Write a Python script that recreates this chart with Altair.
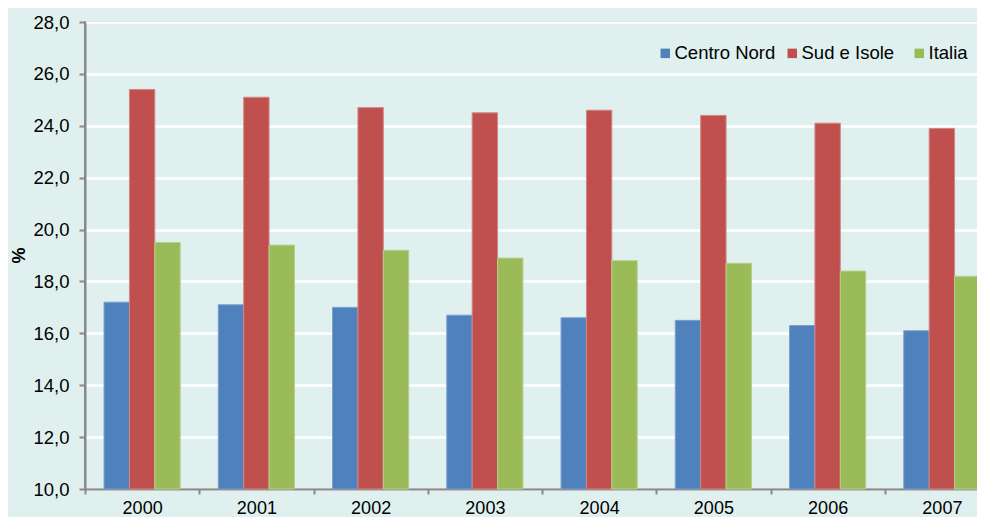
import altair as alt
import pandas as pd

years = ["2000", "2001", "2002", "2003", "2004", "2005", "2006", "2007"]
series = ["Centro Nord", "Sud e Isole", "Italia"]
centro_nord = [17.2, 17.1, 17.0, 16.7, 16.6, 16.5, 16.3, 16.1]
sud_isole = [25.4, 25.1, 24.7, 24.5, 24.6, 24.4, 24.1, 23.9]
italia = [19.5, 19.4, 19.2, 18.9, 18.8, 18.7, 18.4, 18.2]
y_ticks = [10, 12, 14, 16, 18, 20, 22, 24, 26, 28]

colors = ["#4F81BD", "#C0504D", "#9BBB59"]
strokes = ["#7E9FCC", "#D28886", "#B8CF8C"]

rows = []
for name, vals in zip(series, [centro_nord, sud_isole, italia]):
    for yr, v in zip(years, vals):
        rows.append({"anno": yr, "serie": name, "valore": v})
df = pd.DataFrame(rows)

FONT = "Liberation Sans"

chart = alt.Chart(df).mark_bar(strokeWidth=1).encode(
    x=alt.X("anno:N", sort=years, title=None,
            scale=alt.Scale(paddingInner=0, paddingOuter=0),
            axis=alt.Axis(labelAngle=0, tickBand="extent", labelFontSize=18,
                          labelColor="#000000", labelFont=FONT, labelPadding=5,
                          tickSize=5, tickColor="#898989", tickWidth=2,
                          domainColor="#898989", domainWidth=2, grid=False)),
    xOffset=alt.XOffset("serie:N", sort=series,
                        scale=alt.Scale(paddingInner=0, paddingOuter=0.75)),
    y=alt.Y("valore:Q", title="%",
            scale=alt.Scale(domain=[10, 28], nice=False, zero=False),
            axis=alt.Axis(values=y_ticks,
                          labelExpr="replace(format(datum.value, '.1f'), '.', ',')",
                          labelFontSize=18.5, labelColor="#000000", labelFont=FONT,
                          labelPadding=10, tickSize=6, tickColor="#898989", tickWidth=2,
                          domainColor="#898989", domainWidth=2,
                          gridColor="#FFFFFF", gridWidth=2.5,
                          titleFont=FONT, titleFontSize=18, titleFontWeight="bold",
                          titleColor="#000000", titleX=-66, titleY=233,
                          titleAlign="center", titleBaseline="middle")),
    y2=alt.datum(10),
    color=alt.Color("serie:N", sort=series,
                    scale=alt.Scale(domain=series, range=colors),
                    legend=alt.Legend(title=None, orient="none", direction="horizontal",
                                      legendX=571, legendY=22, symbolType="square",
                                      symbolSize=90, symbolStrokeWidth=0,
                                      labelFontSize=18.5, labelFont=FONT,
                                      labelColor="#000000", labelOffset=0,
                                      gridAlign="all", columnPadding=7)),
    stroke=alt.Stroke("serie:N", sort=series,
                      scale=alt.Scale(domain=series, range=strokes), legend=None),
).properties(
    width=914,
    height=467,
    background="#DFF0EF",
    autosize=alt.AutoSizeParams(type="none"),
    padding={"left": 77, "top": 14, "right": -22, "bottom": 28},
).configure_view(
    stroke="#898989", strokeWidth=2, fill="#DFF0EF"
)

chart.save("out.html", embed_options={"renderer": "svg", "actions": False})
